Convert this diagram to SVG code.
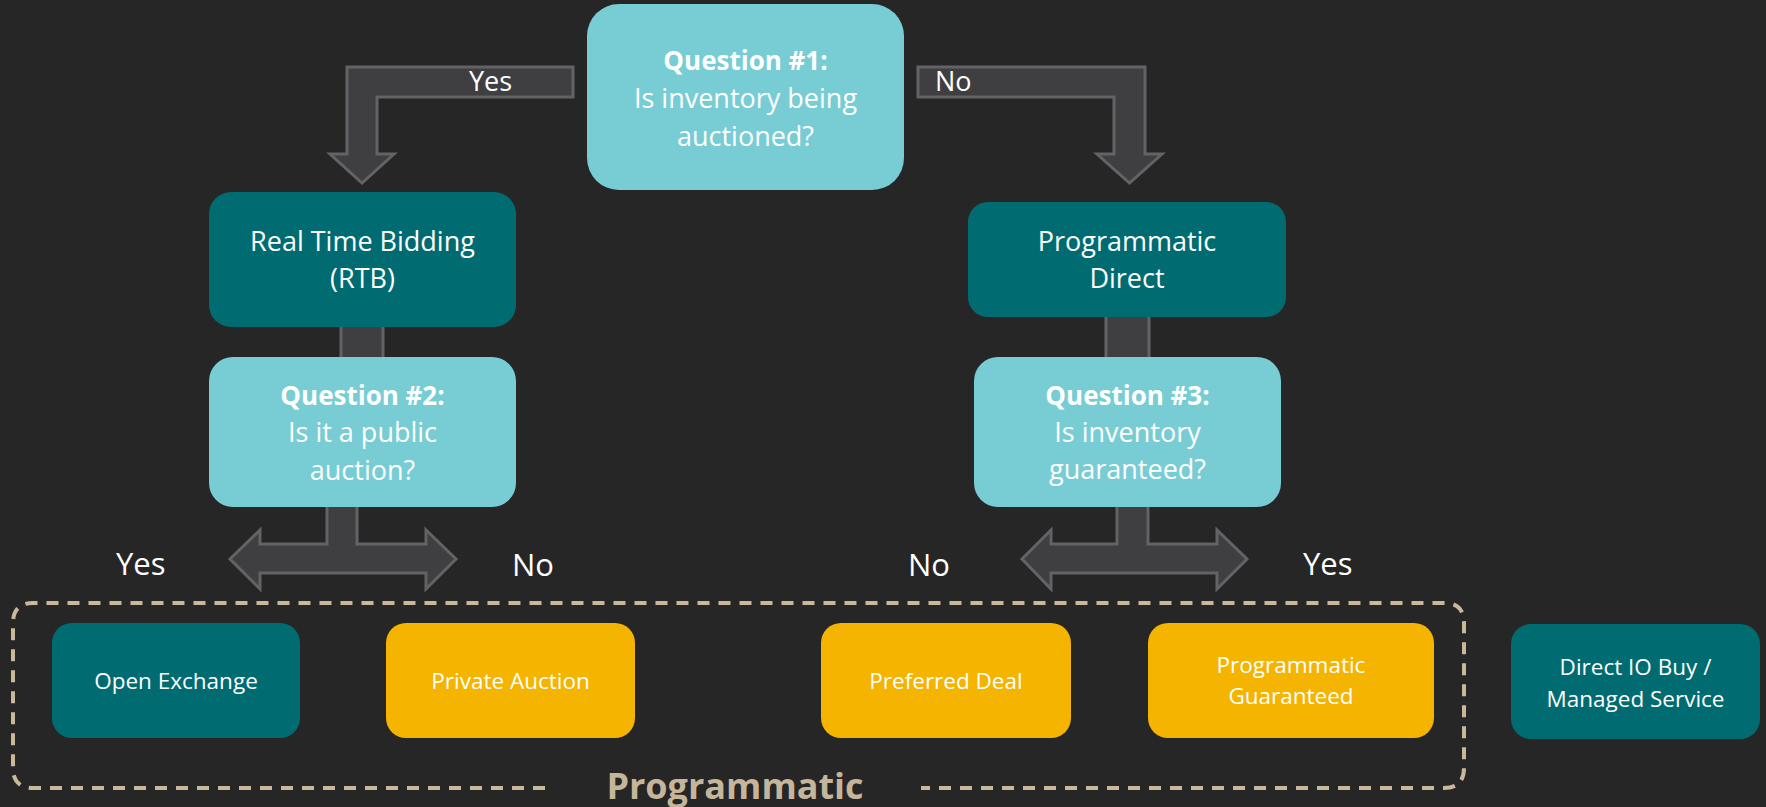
<svg xmlns="http://www.w3.org/2000/svg" width="1766" height="807" viewBox="0 0 1766 807">
<style>
.bg{fill:#262626}
.q{fill:#78CDD4}
.dk{fill:#006C72}
.ye{fill:#F4B400}
.arr{fill:#3F3F42;stroke:#636366;stroke-width:3;stroke-linejoin:miter}
.t{font-family:"Open Sans","Liberation Sans",sans-serif;fill:#FFFFFF;text-anchor:middle}
.m{font-size:27px}
.b{font-size:26px;font-weight:bold}
.s{font-size:22.5px}
.lbl{font-family:"Open Sans","Liberation Sans",sans-serif;fill:#FFFFFF;font-size:31px}
.lbs{font-family:"Open Sans","Liberation Sans",sans-serif;fill:#FFFFFF;font-size:27px}
.dash{fill:none;stroke:#C8B99B;stroke-width:4;stroke-dasharray:12 9}
.grp{font-family:"Open Sans","Liberation Sans",sans-serif;fill:#C4B59B;font-size:36px;font-weight:bold;text-anchor:middle}
</style>
<rect class="bg" x="0" y="0" width="1766" height="807"/>
<g id="connectors">
<polygon class="arr" points="573,67 347,67 347,154 330,154 362,183 394,154 377,154 377,97 573,97"/>
<polygon class="arr" points="918,67 1145,67 1145,154 1162,154 1129.5,183 1097,154 1114,154 1114,97 918,97"/>
<rect class="arr" x="341" y="322" width="42" height="40"/>
<rect class="arr" x="1106" y="312" width="43" height="50"/>
<polygon class="arr" points="327,500 327,544 260,544 260,530 230,559 260,589 260,573 426,573 426,589 456,559 426,530 426,544 357,544 357,500"/>
<polygon class="arr" points="1117,500 1117,544 1051,544 1051,530 1022,559 1051,589 1051,573 1217,573 1217,589 1247,559 1217,530 1217,544 1148,544 1148,500"/>
<text class="lbs" x="469" y="91">Yes</text>
<text class="lbs" x="935" y="91">No</text>
<text class="lbl" x="116" y="575">Yes</text>
<text class="lbl" x="512" y="576">No</text>
<text class="lbl" x="908" y="576">No</text>
<text class="lbl" x="1303" y="575">Yes</text>
</g>
<g id="q1">
<rect class="q" x="587" y="4" width="317" height="186" rx="32"/>
<text class="t b" x="745.5" y="70">Question #1:</text>
<text class="t m" x="745.5" y="108">Is inventory being</text>
<text class="t m" x="745.5" y="146">auctioned?</text>
</g>
<g id="rtb">
<rect class="dk" x="209" y="192" width="307" height="135" rx="22"/>
<text class="t m" x="362.5" y="251">Real Time Bidding</text>
<text class="t m" x="362.5" y="288">(RTB)</text>
</g>
<g id="q2">
<rect class="q" x="209" y="357" width="307" height="150" rx="24"/>
<text class="t b" x="362.5" y="405">Question #2:</text>
<text class="t m" x="362.5" y="442">Is it a public</text>
<text class="t m" x="362.5" y="480">auction?</text>
</g>
<g id="pd">
<rect class="dk" x="968" y="202" width="318" height="115" rx="20"/>
<text class="t m" x="1127" y="251">Programmatic</text>
<text class="t m" x="1127" y="288">Direct</text>
</g>
<g id="q3">
<rect class="q" x="974" y="357" width="307" height="150" rx="24"/>
<text class="t b" x="1127.5" y="405">Question #3:</text>
<text class="t m" x="1127.5" y="442">Is inventory</text>
<text class="t m" x="1127.5" y="479">guaranteed?</text>
</g>
<g id="programmatic-group">
<path class="dash" d="M545,788 L33,788 Q13,788 13,768 L13,623 Q13,603 33,603 L1444,603 Q1464,603 1464,623 L1464,768 Q1464,788 1444,788 L921,788"/>
<text class="grp" x="735" y="799">Programmatic</text>
</g>
<g id="open-exchange">
<rect class="dk" x="52" y="623" width="248" height="115" rx="20"/>
<text class="t s" x="176" y="689">Open Exchange</text>
</g>
<g id="private-auction">
<rect class="ye" x="386" y="623" width="249" height="115" rx="20"/>
<text class="t s" x="510.5" y="689">Private Auction</text>
</g>
<g id="preferred-deal">
<rect class="ye" x="821" y="623" width="250" height="115" rx="20"/>
<text class="t s" x="946" y="689">Preferred Deal</text>
</g>
<g id="programmatic-guaranteed">
<rect class="ye" x="1148" y="623" width="286" height="115" rx="20"/>
<text class="t s" x="1291" y="673">Programmatic</text>
<text class="t s" x="1291" y="704">Guaranteed</text>
</g>
<g id="direct-io">
<rect class="dk" x="1511" y="624" width="249" height="115" rx="20"/>
<text class="t s" x="1635.5" y="675">Direct IO Buy /</text>
<text class="t s" x="1635.5" y="707">Managed Service</text>
</g>
</svg>
